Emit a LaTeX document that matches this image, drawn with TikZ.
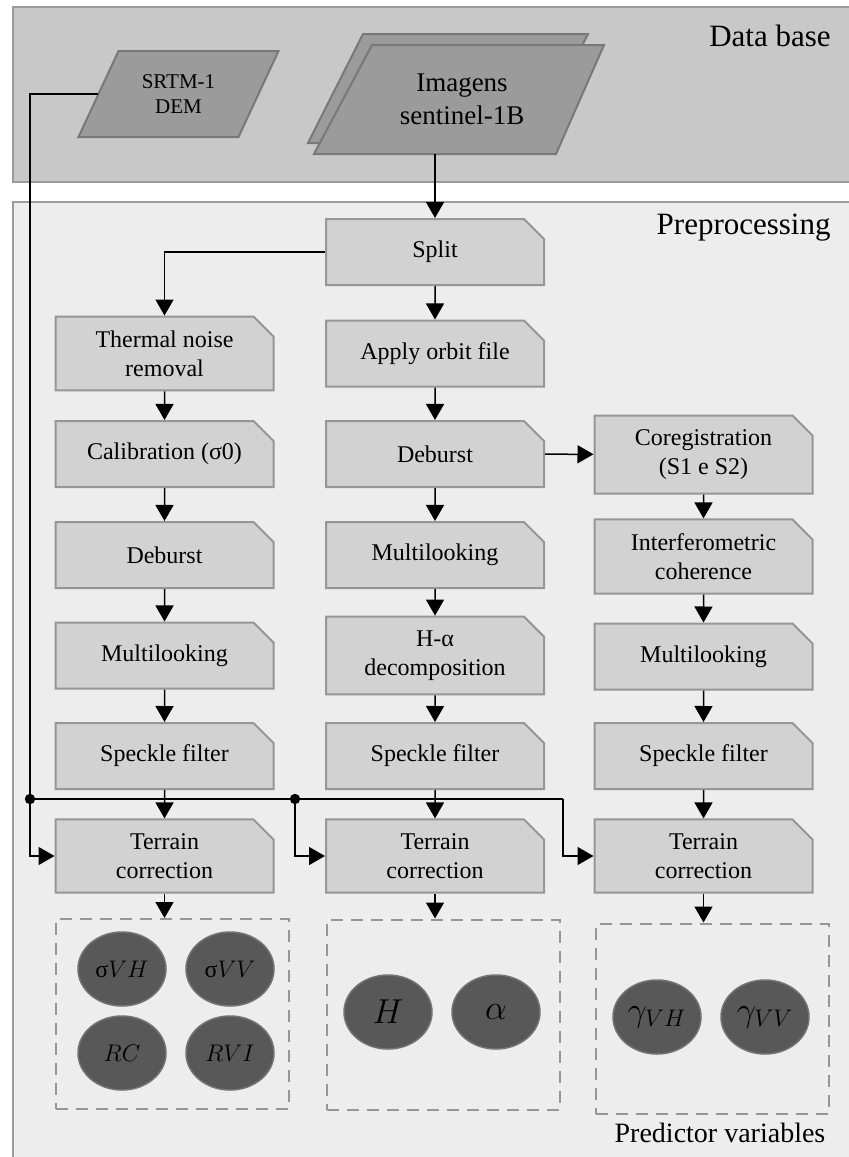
\documentclass[tikz,border=0pt]{standalone}
\usepackage{fontspec}
\setmainfont{Liberation Serif}
\definecolor{dbfill}{RGB}{200,200,200}
\definecolor{ppfill}{RGB}{237,237,237}
\definecolor{bandedge}{RGB}{155,155,155}
\definecolor{boxfill}{RGB}{210,210,210}
\definecolor{boxedge}{RGB}{150,150,150}
\definecolor{iofill}{RGB}{155,155,155}
\definecolor{ioedge}{RGB}{120,120,120}
\definecolor{varfill}{RGB}{88,88,88}
\definecolor{varedge}{RGB}{115,115,115}
\definecolor{dashgray}{RGB}{150,150,150}
\usetikzlibrary{arrows.meta, positioning, calc, shapes.misc, shapes.geometric}

\begin{document}
\begin{tikzpicture}[
  x=0.5pt, y=-0.5pt,
  band/.style={draw=bandedge, line width=1pt},
  bandlbl/.style={font=\fontsize{15.5}{18}\selectfont, inner sep=0pt},
  iobox/.style={draw=ioedge, fill=iofill, line width=1pt},
  iotext/.style={inner sep=0pt, align=center},
  procbox/.style={chamfered rectangle, chamfered rectangle corners=north east,
    chamfered rectangle xsep=5pt, chamfered rectangle ysep=5pt,
    draw=boxedge, fill=boxfill, line width=1pt, minimum width=109pt, minimum height=33pt,
    inner sep=2pt, align=center, font=\fontsize{12}{14.5}\selectfont},
  varbox/.style={draw=dashgray, line width=1pt, dash pattern=on 6pt off 4pt,
    minimum width=116.5pt, minimum height=95pt, inner sep=0pt},
  pvar/.style={ellipse, draw=varedge, fill=varfill, line width=0.75pt,
    minimum width=44pt, minimum height=37pt, inner sep=0pt},
  arr/.style={-{Triangle[length=8pt, width=9pt]}, line width=0.75pt},
  conn/.style={line width=0.75pt}
]
  \useasboundingbox (0,0) rectangle (849,1157);
  \clip (0,0) rectangle (849,1157);
  \fill[white] (0,0) rectangle (849,1157);

  % ── Bands ──
  \draw[band, fill=dbfill] (12.5,7) rectangle (860,182);
  \draw[band, fill=ppfill] (12.5,202) rectangle (860,1170);
  \node[bandlbl, anchor=base east] (dblbl) at (831,46) {Data base};
  \node[bandlbl, anchor=base east] (pplbl) at (831,234) {Preprocessing};

  % ── Inputs ──
  \draw[iobox] (118.5,51) -- (278.5,51) -- (238.5,137) -- (78.5,137) -- cycle;
  \node[iotext, minimum width=80pt, minimum height=43pt, font=\fontsize{10.5}{12.5}\selectfont] (dem) at (178.5,94) {SRTM-1\\DEM};

  \draw[iobox] (363,34) -- (588,34) -- (533,143) -- (308,143) -- cycle;
  \draw[iobox] (372,45) -- (604,45) -- (556,154) -- (314,154) -- cycle;
  \node[iotext, minimum width=116pt, minimum height=54.5pt, font=\fontsize{13.5}{16.5}\selectfont] (imgs) at (462,99.5) {Imagens\\sentinel-1B};

  % ── Left column ──
  \node[procbox] (therm) at (164.5,353.5) {Thermal noise\\removal};
  \node[procbox] (calib) at (164.5,454) {Calibration (σ0)};
  \node[procbox] (deb1) at (164.5,555) {Deburst};
  \node[procbox] (mlk1) at (164.5,655.5) {Multilooking};
  \node[procbox] (spk1) at (164.5,756) {Speckle filter};
  \node[procbox] (tc1) at (164.5,856) {Terrain\\correction};

  % ── Middle column ──
  \node[procbox] (split) at (435,252) {Split};
  \node[procbox] (orbit) at (435,353.5) {Apply orbit file};
  \node[procbox] (deb2) at (435,454) {Deburst};
  \node[procbox] (mlk2) at (435,555) {Multilooking};
  \node[procbox] (halpha) at (435,655.5) {H-α\\decomposition};
  \node[procbox] (spk2) at (435,756) {Speckle filter};
  \node[procbox] (tc2) at (435,856) {Terrain\\correction};

  % ── Right column ──
  \node[procbox] (coreg) at (703.5,454.5) {Coregistration\\(S1 e S2)};
  \node[procbox] (coh) at (703.5,556.5) {Interferometric\\coherence};
  \node[procbox] (mlk3) at (703.5,656.5) {Multilooking};
  \node[procbox] (spk3) at (703.5,756) {Speckle filter};
  \node[procbox] (tc3) at (703.5,856) {Terrain\\correction};

  % ── Flow ──
  \draw[arr] (imgs.south -| split.north) -- (split.north);
  \draw[arr] (split.west) -| (therm.north);
  \draw[arr] (split) -- (orbit);
  \draw[arr] (orbit) -- (deb2);
  \draw[arr] (deb2) -- (mlk2);
  \draw[arr] (mlk2) -- (halpha);
  \draw[arr] (halpha) -- (spk2);
  \draw[arr] (spk2) -- (tc2);
  \draw[arr] (therm) -- (calib);
  \draw[arr] (calib) -- (deb1);
  \draw[arr] (deb1) -- (mlk1);
  \draw[arr] (mlk1) -- (spk1);
  \draw[arr] (spk1) -- (tc1);
  \draw[arr] (deb2) -- (coreg);
  \draw[arr] (coreg) -- (coh);
  \draw[arr] (coh) -- (mlk3);
  \draw[arr] (mlk3) -- (spk3);
  \draw[arr] (spk3) -- (tc3);

  % ── DEM to terrain correction ──
  \coordinate (jl) at (30,799);
  \coordinate (jm) at (295,799);
  \coordinate (jr) at (563,799);
  \draw[conn] (dem.west) -| (jl);
  \draw[conn] (jl) -- (jr);
  \draw[arr] (jl) |- (tc1.west);
  \draw[arr] (jm) |- (tc2.west);
  \draw[arr] (jr) |- (tc3.west);
  \fill (jl) circle (2.6pt);
  \fill (jm) circle (2.6pt);

  % ── Predictor variables ──
  \node[varbox] (vars1) at (172.5,1014) {};
  \node[varbox] (vars2) at (443,1014.5) {};
  \node[varbox] (vars3) at (712,1018.5) {};
  \draw[arr] (tc1.south) -- (tc1.south |- vars1.north);
  \draw[arr] (tc2.south) -- (tc2.south |- vars2.north);
  \draw[arr] (tc3.south) -- (tc3.south |- vars3.north);

  \node[pvar, font=\fontsize{12}{14}\selectfont] (svh) at (122,969) {σ$VH$};
  \node[pvar, font=\fontsize{12}{14}\selectfont] (svv) at (230,969) {σ$VV$};
  \node[pvar, font=\fontsize{12}{14}\selectfont] (rc) at (122,1053) {$RC$};
  \node[pvar, font=\fontsize{12}{14}\selectfont] (rvi) at (230,1053) {$RVI$};
  \node[pvar, font=\fontsize{17}{20}\selectfont] (ent) at (388,1012) {$H$};
  \node[pvar, font=\fontsize{17}{20}\selectfont] (alp) at (496,1012) {$\alpha$};
  \node[pvar, font=\fontsize{17}{20}\selectfont] (gvh) at (657,1017) {$\gamma_{VH}$};
  \node[pvar, font=\fontsize{17}{20}\selectfont] (gvv) at (765,1017) {$\gamma_{VV}$};

  \node[font=\fontsize{14}{17}\selectfont, anchor=base] (predlbl) at (720,1142) {Predictor variables};
\end{tikzpicture}
\end{document}
